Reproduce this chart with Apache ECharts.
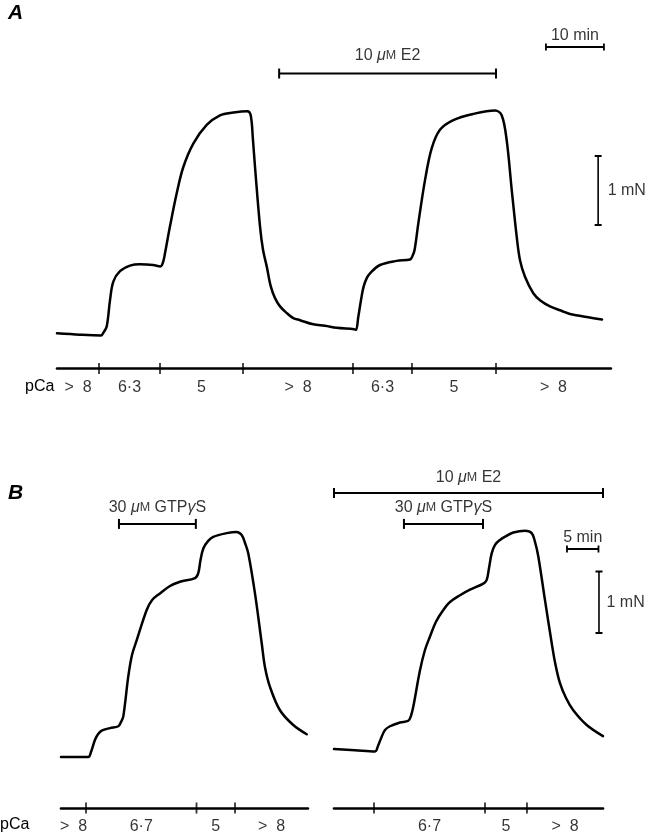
<!DOCTYPE html>
<html>
<head>
<meta charset="utf-8">
<script src="https://cdn.jsdelivr.net/npm/echarts@6/dist/echarts.min.js"></script>
<style>
  html, body { margin: 0; padding: 0; background: #fff; }
  #chart { width: 652px; height: 834px; }
</style>
</head>
<body>
<div id="chart"></div>
<script>
// ---------- Data: force (mN) against time (min) ----------

// Panel A: two Ca2+ activation cycles, the second in the presence of 10 µM E2
const traceA = [
  [0.00, 0.01], [3.97, -0.01], [7.59, -0.02], [7.93, 0.01], [8.57, 0.11], [9.14, 0.49],
  [9.71, 0.76], [10.86, 0.91], [12.59, 0.99], [14.31, 1.01], [16.55, 1.00], [17.84, 0.98],
  [18.28, 1.04], [18.62, 1.17], [19.48, 1.56], [20.64, 2.04], [21.78, 2.42], [23.50, 2.76],
  [25.81, 3.03], [28.10, 3.17], [30.40, 3.21], [32.81, 3.23], [33.40, 3.17], [33.79, 2.81],
  [34.14, 2.42], [35.00, 1.56], [35.52, 1.22], [36.16, 0.98], [36.86, 0.69], [37.59, 0.52],
  [38.45, 0.40], [39.66, 0.30], [40.74, 0.23], [41.90, 0.20], [44.19, 0.14], [46.21, 0.12],
  [48.22, 0.09], [51.21, 0.07], [51.55, 0.06], [51.95, 0.25], [52.41, 0.49], [52.84, 0.68],
  [53.40, 0.81], [53.97, 0.88], [55.69, 1.00], [58.57, 1.06], [60.86, 1.08], [61.29, 1.13],
  [61.66, 1.22], [62.29, 1.60], [63.45, 2.23], [64.60, 2.69], [66.03, 2.96], [68.33, 3.10],
  [71.78, 3.19], [75.52, 3.24], [76.67, 3.17], [77.53, 2.81], [78.40, 2.09], [79.26, 1.41],
  [79.83, 1.07], [80.69, 0.83], [82.12, 0.59], [83.28, 0.49], [85.00, 0.40], [87.16, 0.33],
  [88.45, 0.29], [91.03, 0.25], [93.97, 0.21]
];
const pCaChangesA = [7.24, 17.76, 32.07, 51.03, 61.2, 75.69];
const pCaLabelsA = ['>  8', '6·3', '5', '>  8', '6·3', '5', '>  8'];
const e2A = [38.3, 75.69];

// Panel B, left: pCa 6·7 with 30 µM GTPγS
const traceBL = [
  [0.00, 0.00], [4.33, 0.00], [4.76, 0.08], [5.40, 0.28], [5.87, 0.37], [6.46, 0.43],
  [7.78, 0.47], [9.10, 0.50], [9.52, 0.57], [9.89, 0.66], [10.68, 1.31], [11.27, 1.66],
  [12.02, 1.90], [13.60, 2.39], [14.44, 2.55], [15.71, 2.66], [17.30, 2.78], [18.89, 2.85],
  [21.27, 2.91], [21.79, 2.99], [22.14, 3.20], [22.59, 3.39], [23.33, 3.51], [24.17, 3.58],
  [26.30, 3.64], [27.89, 3.66], [28.68, 3.61], [29.21, 3.48], [29.73, 3.31], [30.79, 2.66],
  [31.86, 1.85], [32.38, 1.46], [33.17, 1.14], [34.76, 0.76], [36.87, 0.52], [39.00, 0.37]
];
const pCaChangesBL = [3.97, 21.51, 27.62];
const pCaLabelsBL = ['>  8', '6·7', '5', '>  8'];
const gtpBL = [9.2, 21.4];

// Panel B, right: the same protocol with 10 µM E2 present throughout
const traceBR = [
  [0.00, 0.13], [3.33, 0.11], [6.51, 0.09], [6.98, 0.18], [7.57, 0.33], [8.10, 0.44],
  [8.89, 0.50], [10.48, 0.56], [11.79, 0.59], [12.22, 0.67], [12.59, 0.82], [13.65, 1.41],
  [14.44, 1.74], [15.24, 1.96], [16.19, 2.20], [17.35, 2.39], [18.41, 2.52], [20.00, 2.63],
  [21.59, 2.72], [23.70, 2.82], [24.24, 2.88], [24.60, 3.07], [25.03, 3.31], [25.56, 3.45],
  [26.35, 3.53], [27.30, 3.59], [28.46, 3.65], [30.32, 3.68], [31.38, 3.64], [31.90, 3.50],
  [32.43, 3.26], [33.49, 2.55], [34.56, 1.85], [35.08, 1.54], [35.87, 1.20], [36.83, 0.96],
  [37.98, 0.76], [40.11, 0.52], [42.70, 0.34]
];
const pCaChangesBR = [6.35, 23.97, 30.63];
const pCaLabelsBR = ['', '6·7', '5', '>  8'];
const gtpBR = [11.1, 23.65];
const e2BR = [0, 42.7];

// Calibration bar lengths
const timeBarA = 10;   // min
const timeBarB = 5;    // min
const forceBar = 1;    // mN

// ---------- Layout ----------
const FONT = '"Liberation Sans", Arial, Helvetica, sans-serif';
const INK = '#000';

const panels = [
  { left: 57,  top: 16.6,  pxPerMin: 5.8, pxPerMN: 69,   xMax: 95.5, yMin: -0.5,  yMax: 4.6 },
  { left: 61,  top: 461.8, pxPerMin: 6.3, pxPerMN: 61.5, xMax: 39.2, yMin: -0.83, yMax: 4.8 },
  { left: 334, top: 461.8, pxPerMin: 6.3, pxPerMN: 61.5, xMax: 42.7, yMin: -0.83, yMax: 4.8 }
];

// placement of the annotation bars (time in min, level in mN units of each panel)
const place = {
  e2A:    { y: 3.775, gap: 9 },
  timeA:  { t0: 84.3, y: 4.16, gap: 3 },
  forceA: { t: 93.3, y0: 1.58 },
  gtpBL:  { y: 3.79, gap: 8 },
  e2BR:   { y: 4.293, gap: 7 },
  gtpBR:  { y: 3.79, gap: 8 },
  timeB:  { t0: 36.98, y: 3.382, gap: 3 },
  forceB: { t: 42.06, y0: 2.016 }
};

const grids = panels.map(p => ({
  left: p.left,
  top: p.top,
  width: p.xMax * p.pxPerMin,
  height: (p.yMax - p.yMin) * p.pxPerMN
}));

const xAxes = panels.map((p, i) => ({
  gridIndex: i, type: 'value', min: 0, max: p.xMax,
  axisLine: { show: true, onZero: false, lineStyle: { color: INK, width: 2.6 } },
  axisTick: { show: false }, axisLabel: { show: false }, splitLine: { show: false }
}));
const yAxes = panels.map((p, i) => ({
  gridIndex: i, type: 'value', min: p.yMin, max: p.yMax, show: false, splitLine: { show: false }
}));

const rich = {
  mu: { fontFamily: FONT, fontSize: 16, fontStyle: 'italic', color: INK },
  sc: { fontFamily: FONT, fontSize: 12.5, color: INK },
  g:  { fontFamily: FONT, fontSize: 16, fontStyle: 'italic', color: INK }
};

const base = { animation: false, silent: true, clip: false };

function trace(i, data) {
  return Object.assign({
    type: 'line', xAxisIndex: i, yAxisIndex: i, data: data,
    smooth: 0.35, symbol: 'none',
    lineStyle: { color: INK, width: 2.5, cap: 'round', join: 'round' }
  }, base);
}

function seg(i, pts, cap, width) {
  return Object.assign({
    type: 'line', xAxisIndex: i, yAxisIndex: i, data: pts,
    symbol: 'rect', symbolSize: cap, showSymbol: true, showAllSymbol: true,
    itemStyle: { color: INK }, lineStyle: { color: INK, width: width }
  }, base);
}

function tag(i, pt, text, position, distance, size) {
  return Object.assign({
    type: 'scatter', xAxisIndex: i, yAxisIndex: i,
    data: [pt], symbolSize: 1, itemStyle: { color: 'rgba(0,0,0,0)' },
    label: {
      show: true, position: position, distance: distance,
      formatter: text, color: INK, fontFamily: FONT, fontSize: size || 16, rich: rich
    }
  }, base);
}

// solution-change ticks crossing the pCa line, and the pCa value of each interval
function pCaAxis(i, changes, labels) {
  const p = panels[i];
  const bounds = [0].concat(changes, [p.xMax]);
  const out = [Object.assign({
    type: 'scatter', xAxisIndex: i, yAxisIndex: i,
    data: changes.map(t => [t, p.yMin]),
    symbol: 'rect', symbolSize: [1.8, 11], itemStyle: { color: INK }
  }, base)];
  labels.forEach((txt, k) => {
    if (!txt) return;
    out.push(tag(i, [(bounds[k] + bounds[k + 1]) / 2, p.yMin], txt, 'bottom', i === 0 ? 11 : 10));
  });
  return out;
}

function hBar(i, t0, t1, y, text, gap, cap) {
  return [
    seg(i, [[t0, y], [t1, y]], cap || [2, 10], 2),
    tag(i, [(t0 + t1) / 2, y], text, 'top', gap)
  ];
}

function vBar(i, t, y0, len, text, gap) {
  return [
    seg(i, [[t, y0], [t, y0 + len]], [7, 2], 1.6),
    tag(i, [t, y0 + len / 2], text, 'right', gap)
  ];
}

const e2Text = '10 {mu|μ}{sc|M} E2';
const gtpText = '30 {mu|μ}{sc|M} GTP{g|γ}S';

const series = [].concat(
  trace(0, traceA),
  pCaAxis(0, pCaChangesA, pCaLabelsA),
  hBar(0, e2A[0], e2A[1], place.e2A.y, e2Text, place.e2A.gap),
  hBar(0, place.timeA.t0, place.timeA.t0 + timeBarA, place.timeA.y, timeBarA + ' min', place.timeA.gap, [1.8, 7]),
  vBar(0, place.forceA.t, place.forceA.y0, forceBar, forceBar + ' mN', 9),

  trace(1, traceBL),
  pCaAxis(1, pCaChangesBL, pCaLabelsBL),
  hBar(1, gtpBL[0], gtpBL[1], place.gtpBL.y, gtpText, place.gtpBL.gap),

  trace(2, traceBR),
  pCaAxis(2, pCaChangesBR, pCaLabelsBR),
  hBar(2, e2BR[0], e2BR[1], place.e2BR.y, e2Text, place.e2BR.gap),
  hBar(2, gtpBR[0], gtpBR[1], place.gtpBR.y, gtpText, place.gtpBR.gap),
  hBar(2, place.timeB.t0, place.timeB.t0 + timeBarB, place.timeB.y, timeBarB + ' min', place.timeB.gap, [1.8, 7]),
  vBar(2, place.forceB.t, place.forceB.y0, forceBar, forceBar + ' mN', 7)
);

const panelLetter = (txt, x, y) => ({
  type: 'text', left: x, top: y, silent: true,
  style: { text: txt, font: 'italic bold 21px ' + FONT, fill: INK }
});
const pCaTitle = (x, y) => ({
  type: 'text', left: x, top: y, silent: true,
  style: { text: 'pCa', font: '16px ' + FONT, fill: INK }
});

const chart = echarts.init(document.getElementById('chart'), null, { renderer: 'canvas' });
chart.setOption({
  animation: false,
  backgroundColor: '#fff',
  grid: grids,
  xAxis: xAxes,
  yAxis: yAxes,
  series: series,
  graphic: [
    panelLetter('A', 8, 3),
    panelLetter('B', 8, 483),
    pCaTitle(25, 379),
    pCaTitle(0, 817)
  ]
});
</script>
</body>
</html>
